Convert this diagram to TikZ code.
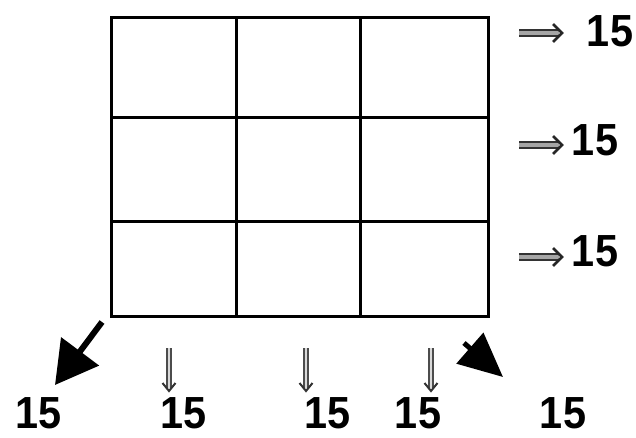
\documentclass[tikz,border=0pt]{standalone}
\usepackage{fontspec}
\setmainfont{Liberation Sans}
\usetikzlibrary{arrows.meta}
\begin{document}
\begin{tikzpicture}[x=1pt,y=-1pt,
  numlabel/.style={inner sep=0pt, font=\fontsize{45}{45}\selectfont\bfseries, xscale=0.92},
  gridline/.style={line width=3pt},
  dblright/.pic={
    \draw[draw=black!80, line width=2.6pt, double=black!35, double distance=3.4pt] (0,0) -- (40,0);
    \draw[draw=black!85, line width=2.6pt, line join=miter] (34,-9) -- (43,0) -- (34,9);
  },
  dbldown/.pic={
    \draw[draw=black!70, line width=2pt, double=black!15, double distance=2.6pt] (0,0) -- (40,0);
    \draw[draw=black!80, line width=2pt, line join=miter] (35,-6.5) -- (43,0) -- (35,6.5);
  },
  bigarrow/.style={line width=6pt, -{Triangle[length=42pt, width=46pt]}}]
\useasboundingbox (0,0) rectangle (636,437);
% grid
\draw[gridline] (111,17) rectangle (488,316);
\draw[gridline] (236,17) -- (236,316);
\draw[gridline] (360,17) -- (360,316);
\draw[gridline] (111,117) -- (488,117);
\draw[gridline] (111,221) -- (488,221);
% right labels
\node[numlabel] (r1) at (610,31) {15};
\node[numlabel] (r2) at (595,140) {15};
\node[numlabel] (r3) at (595,251) {15};
\coordinate (r1s) at (519,33);
\coordinate (r2s) at (519,145);
\coordinate (r3s) at (519,257);
\pic at (r1s) {dblright};
\pic at (r2s) {dblright};
\pic at (r3s) {dblright};
% bottom labels
\node[numlabel] (b1) at (39,413) {15};
\node[numlabel] (b2) at (184,413) {15};
\node[numlabel] (b3) at (328,413) {15};
\node[numlabel] (b4) at (418,413) {15};
\node[numlabel] (b5) at (563,413) {15};
% down arrows
\coordinate (d1s) at (169,348);
\coordinate (d2s) at (306,348);
\coordinate (d3s) at (431,348);
\pic[rotate=-90] at (d1s) {dbldown};
\pic[rotate=-90] at (d2s) {dbldown};
\pic[rotate=-90] at (d3s) {dbldown};
% big diagonal arrows
\coordinate (la) at (102,322); \coordinate (lb) at (55,385);
\draw[bigarrow] (la) -- (lb);
\coordinate (ra) at (464,343); \coordinate (rb) at (503,377);
\draw[line width=5pt, -{Triangle[length=44pt, width=40pt]}] (ra) -- (rb);
\end{tikzpicture}
\end{document}
